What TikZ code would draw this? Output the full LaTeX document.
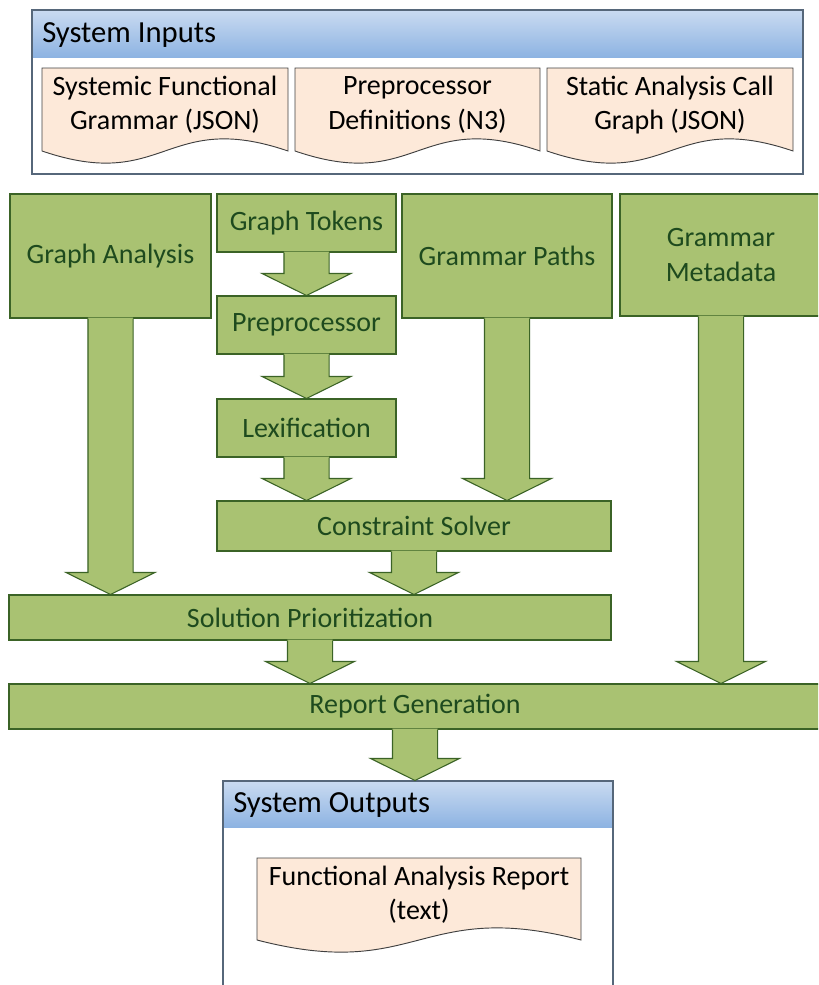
\documentclass[tikz,border=0pt]{standalone}
\usepackage{fontspec}
\setmainfont{Carlito}
\usetikzlibrary{calc}

\definecolor{gfill}{HTML}{A9C272}
\definecolor{gline}{HTML}{3B6326}
\definecolor{gtext}{HTML}{1E4A1E}
\definecolor{docfill}{HTML}{FDE9D9}
\definecolor{docline}{HTML}{404040}
\definecolor{hdtop}{HTML}{CADBF1}
\definecolor{hdbot}{HTML}{8DB3E2}
\definecolor{panelline}{HTML}{56677A}

\tikzset{
  stage/.style={draw=gline, fill=gfill, line width=0.8pt, inner sep=0pt,
    text=gtext, align=center, font=\fontsize{21}{25.6}\selectfont},
  doclabel/.style={align=center, font=\fontsize{21}{25.6}\selectfont, inner sep=0pt},
  paneltitle/.style={anchor=west, font=\fontsize{23}{28}\selectfont, inner sep=0pt},
  panel/.style={draw=panelline, line width=0.8pt, inner sep=0pt},
  docshape/.style={fill=docfill, draw=docline, line width=0.7pt},
}

% rectangular node spanning the corners (#3,#4) and (#5,#6), in pixel units
\newcommand{\boxnode}[7]{%
  \node[#1, minimum width={(#5-#3)*0.75pt}, minimum height={(#6-#4)*0.75pt}]
    (#2) at ({(#3+#5)/2},{(#4+#6)/2}) {#7};
}

% block arrow hanging from the bottom of one stage down to the top of another
\newcommand{\flowarrow}[2]{%
  \fill[gfill] let \p1=(#1.south), \p2=(#2.north) in
    (\x1-16.9pt,\y1+0.7pt) -- (\x1-16.9pt,\y2+16.5pt) -- (\x1-33.4pt,\y2+16.5pt)
    -- (\x1,\y2) -- (\x1+33.4pt,\y2+16.5pt) -- (\x1+16.9pt,\y2+16.5pt)
    -- (\x1+16.9pt,\y1+0.7pt) -- cycle;
  \draw[gline, line width=0.8pt, line join=miter] let \p1=(#1.south), \p2=(#2.north) in
    (\x1-16.9pt,\y1) -- (\x1-16.9pt,\y2+16.5pt) -- (\x1-33.4pt,\y2+16.5pt)
    -- (\x1,\y2) -- (\x1+33.4pt,\y2+16.5pt) -- (\x1+16.9pt,\y2+16.5pt)
    -- (\x1+16.9pt,\y1);
}

% document outline with a wavy lower edge: left, top, right, lower end
\newcommand{\docpath}[4]{%
  \draw[docshape] (#1,#2) -- (#3,#2) -- (#3,#4)
    .. controls ({(#1+#3)/2},{#4-42}) and ({(#1+#3)/2},{#4+42}) .. (#1,#4) -- cycle;
}

\begin{document}
\begin{tikzpicture}[x=0.75pt, y=-0.75pt]
\useasboundingbox (0,0) rectangle (818,985);
\clip (0,0) rectangle (818,985);

% ---- inputs panel ----
\shade[top color=hdtop, bottom color=hdbot] (32,10) rectangle (803,57);
\boxnode{panel}{inpanel}{32}{10}{803}{174}{}
\node[paneltitle] (intitle) at (42,35) {System Inputs};

\docpath{42}{68}{288}{151}
\docpath{295}{68}{540}{151}
\docpath{547}{68}{793}{151}
\node[doclabel] (sfg) at (165,105) {Systemic Functional\\Grammar (JSON)};
\node[doclabel] (ppd) at (417.5,105) {Preprocessor\\Definitions (N3)};
\node[doclabel] (cg) at (670,105) {Static Analysis Call\\Graph (JSON)};

% ---- processing stages ----
\boxnode{stage}{ga}{10}{194}{211}{318}{Graph Analysis}
\boxnode{stage}{gt}{217}{194}{396}{252}{Graph Tokens}
\boxnode{stage}{pp}{217}{296}{396}{354}{Preprocessor}
\boxnode{stage}{lx}{217}{399}{396}{457}{Lexification}
\boxnode{stage}{gp}{402}{194}{612}{318}{Grammar Paths}
\boxnode{stage}{gm}{620}{194}{822}{316}{Grammar\\Metadata}
\boxnode{stage}{cs}{217}{501}{611}{551}{Constraint Solver}
\boxnode{stage}{sp}{9}{595}{611}{640}{Solution Prioritization}
\boxnode{stage}{rg}{9}{684}{821}{729}{Report Generation}

% ---- outputs panel ----
\shade[top color=hdtop, bottom color=hdbot] (223,781) rectangle (613,827);
\boxnode{panel}{outpanel}{223}{781}{613}{1000}{}
\node[paneltitle] (outtitle) at (233,805) {System Outputs};
\docpath{257}{858}{581}{940}
\node[doclabel] (far) at (419,895) {Functional Analysis Report\\(text)};

% ---- flow between stages ----
\flowarrow{gt}{pp}
\flowarrow{pp}{lx}
\flowarrow{lx}{cs}
\flowarrow{gp}{cs}
\flowarrow{cs}{sp}
\flowarrow{ga}{sp}
\flowarrow{sp}{rg}
\flowarrow{gm}{rg}
\flowarrow{rg}{outpanel}
\end{tikzpicture}
\end{document}
